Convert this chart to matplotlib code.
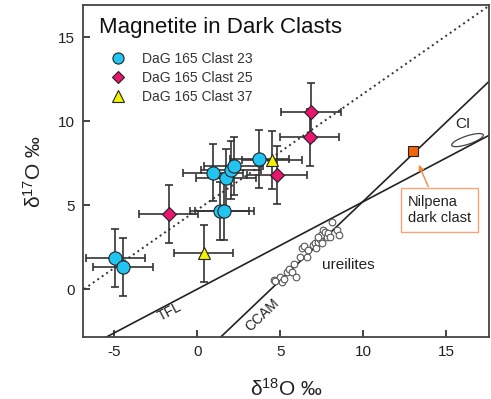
import numpy as np
import matplotlib
matplotlib.use("Agg")
import matplotlib.pyplot as plt
from matplotlib.patches import Ellipse
from matplotlib.lines import Line2D

plt.rcParams['font.family'] = ['Liberation Sans', 'DejaVu Sans']
plt.rcParams['axes.unicode_minus'] = False

# DaG 165 magnetite data (delta18O, delta17O), per mil
clast23_x = [-4.94, -4.50, 0.94, 1.71, 2.03, 2.19, 3.75, 1.34, 1.63]
clast23_y = [1.86, 1.31, 6.94, 6.59, 7.08, 7.32, 7.76, 4.66, 4.66]
clast25_x = [-1.73, 4.80, 6.77, 6.85]
clast25_y = [4.45, 6.79, 9.03, 10.55]
clast37_x = [0.38, 4.50]
clast37_y = [2.12, 7.68]
err_x = 1.8
err_y = 1.72

# ureilites (open circles along CCAM)
ureilite_x = [4.60, 5.00, 4.66, 5.10, 5.20, 5.44, 5.56, 5.70, 5.96, 5.84, 6.20, 6.30,
              6.45, 6.64, 6.70, 6.97, 7.07, 7.17, 7.27, 7.41, 7.45, 7.51, 7.61,
              7.71, 7.81, 7.87, 8.01, 8.11, 8.42, 8.55, 7.31]
ureilite_y = [0.54, 0.73, 0.49, 0.40, 0.61, 1.03, 1.17, 1.03, 0.73, 1.49, 1.92, 2.42,
              2.56, 1.92, 2.32, 2.62, 2.72, 2.42, 2.82, 2.96, 3.21, 2.72, 3.51,
              3.41, 3.11, 3.35, 3.11, 4.00, 3.51, 3.21, 3.11]

nilpena = (13.03, 8.23)
ci_center = (16.3, 8.87)

# reference lines: slope, intercept
tfl = (0.52, 0.0)
ccam = (0.94, -4.18)
mag_fit = (0.69, 0.69 * 6.84)

xlim = (-6.9, 17.6)
ylim = (-2.86, 16.9)

fig = plt.figure(figsize=(4.91, 3.99), dpi=100)
ax = fig.add_axes([0.169, 0.155, 0.827, 0.832])

xs = np.array([xlim[0], xlim[1]])
ax.plot(xs, tfl[0] * xs + tfl[1], color='#222222', lw=1.2)
ax.plot(xs, ccam[0] * xs + ccam[1], color='#222222', lw=1.2)
xd = np.array([-6.84, 17.6])
ax.plot(xd, mag_fit[0] * xd + mag_fit[1], color='#333333', lw=1.4, ls=(0, (1.0, 1.8)))

ax.plot(ureilite_x, ureilite_y, 'o', mfc='white', mec='#555555', ms=4.8, mew=0.8, zorder=3)

ebkw = dict(fmt='none', ecolor='#333333', elinewidth=1.2, capsize=3, capthick=1.2, zorder=4)
for xv, yv in [(clast23_x, clast23_y), (clast25_x, clast25_y), (clast37_x, clast37_y)]:
    ax.errorbar(xv, yv, xerr=err_x, yerr=err_y, **ebkw)

cyan = '#22c4f2'
pink = '#e8166c'
yellow = '#f2f200'
ax.plot(clast23_x, clast23_y, 'o', mfc=cyan, mec='#222222', ms=9.5, mew=0.8, zorder=5)
ax.plot(clast25_x, clast25_y, 'D', mfc=pink, mec='#222222', ms=7.5, mew=0.8, zorder=5)
ax.plot(clast37_x, clast37_y, '^', mfc=yellow, mec='#222222', ms=9, mew=0.8, zorder=5)

ax.plot(*nilpena, 's', mfc='#f0650a', mec='#222222', ms=7.5, mew=0.8, zorder=5)

ax.add_patch(Ellipse(ci_center, 2.0, 0.5, angle=18, fill=False, ec='#444444', lw=0.9))
ax.text(16.0, 9.8, 'CI', fontsize=11, color='#222222', ha='center', va='center')

ax.annotate('', xy=(13.3, 7.55), xytext=(14.0, 5.95),
            arrowprops=dict(arrowstyle='-|>', color='#f08a40', lw=1.0, mutation_scale=8))
ax.text(12.7, 4.71, 'Nilpena\ndark clast', fontsize=10.5, color='#222222',
        ha='left', va='center', linespacing=1.2,
        bbox=dict(boxstyle='square,pad=0.45', fc='white', ec='#f4a878', lw=1.0))

ax.text(-1.68, -1.35, 'TFL', fontsize=10, rotation=27.8, ha='center', va='center', color='#222222')
ax.text(3.94, -1.55, 'CCAM', fontsize=10, rotation=43.6, ha='center', va='center', color='#222222')
ax.text(9.08, 1.43, 'ureilites', fontsize=11, ha='center', va='center', color='#222222')

ax.text(0.039, 0.934, 'Magnetite in Dark Clasts', transform=ax.transAxes,
        fontsize=16, ha='left', va='center', color='#111111')

handles = [
    Line2D([], [], ls='none', marker='o', mfc=cyan, mec='#222222', ms=8, mew=0.8),
    Line2D([], [], ls='none', marker='D', mfc=pink, mec='#222222', ms=6.5, mew=0.8),
    Line2D([], [], ls='none', marker='^', mfc=yellow, mec='#222222', ms=8, mew=0.8),
]
labels = ['DaG 165 Clast 23', 'DaG 165 Clast 25', 'DaG 165 Clast 37']
leg = ax.legend(handles, labels, loc='upper left', bbox_to_anchor=(0.052, 0.88),
                frameon=False, fontsize=10, handlelength=1.0, handletextpad=1.2,
                labelspacing=0.35, borderpad=0.0)
for t in leg.get_texts():
    t.set_color('#333333')

ax.set_xlim(*xlim)
ax.set_ylim(*ylim)
ax.set_xticks([-5, 0, 5, 10, 15])
ax.set_yticks([0, 5, 10, 15])
ax.tick_params(direction='in', length=5, width=1.2, labelsize=11, colors='#222222', pad=6)
for s in ax.spines.values():
    s.set_color('#444444')
    s.set_linewidth(1.3)

ax.set_xlabel(r'$\mathregular{\delta^{18}O}$ ‰', fontsize=15, color='#222222', labelpad=13)
ax.set_ylabel(r'$\mathregular{\delta^{17}O}$ ‰', fontsize=15, color='#222222', labelpad=9)

fig.savefig('out.png', dpi=100)
